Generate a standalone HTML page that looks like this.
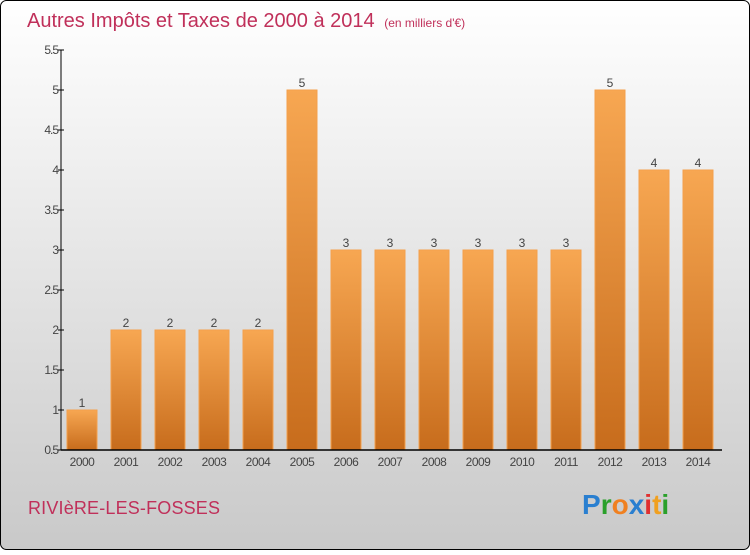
<!DOCTYPE html>
<html><head><meta charset="utf-8"><style>
html,body{margin:0;padding:0;}
body{width:750px;height:550px;overflow:hidden;font-family:"Liberation Sans",sans-serif;}
</style></head><body>
<svg width="750" height="550" xmlns="http://www.w3.org/2000/svg">
<defs>
<linearGradient id="bg" x1="0" y1="0" x2="0" y2="1"><stop offset="0" stop-color="#ffffff"/><stop offset="1" stop-color="#c9c9c9"/></linearGradient>
<linearGradient id="bar" x1="0" y1="0" x2="0" y2="1"><stop offset="0" stop-color="#f7a752"/><stop offset="1" stop-color="#c76c1c"/></linearGradient>
</defs>
<rect x="0.5" y="0.5" width="749" height="549" rx="6" fill="url(#bg)" stroke="#000"/>
<text x="27" y="27" font-size="20" fill="#c0305a">Autres Impôts et Taxes de 2000 à 2014 <tspan font-size="12" dx="4">(en milliers d'€)</tspan></text>
<g id="yaxis"></g>
<g id="bars"></g>
<g id="xaxis"></g>
<text x="28" y="514" font-size="18" fill="#c0305a" textLength="192">RIVIèRE-LES-FOSSES</text>
<text x="582" y="514" font-size="28" font-weight="bold" font-family="Liberation Sans, sans-serif"><tspan fill="#2a7fd0">P</tspan><tspan fill="#2aa02a">r</tspan><tspan fill="#f08020">o</tspan><tspan fill="#2a7fd0">x</tspan><tspan fill="#e03030">i</tspan><tspan fill="#f0a020">t</tspan><tspan fill="#2aa02a">i</tspan></text>
</svg>
<script>
const categories=["2000","2001","2002","2003","2004","2005","2006","2007","2008","2009","2010","2011","2012","2013","2014"];
const values=[1,2,2,2,2,5,3,3,3,3,3,3,5,4,4];
const yTicks=[0.5,1,1.5,2,2.5,3,3.5,4,4.5,5,5.5];
const yTickLabels=["0.5","1","1.5","2","2.5","3","3.5","4","4.5","5","5.5"];
const NS="http://www.w3.org/2000/svg";
const y0=450,yTop=50,vMin=0.5,vMax=5.5;
function yS(v){return y0-(v-vMin)/(vMax-vMin)*(y0-yTop);}
function xC(i){return 82+i*44;}
function mk(t,a,p){const e=document.createElementNS(NS,t);for(const k in a)e.setAttribute(k,a[k]);p.appendChild(e);return e;}
const ya=document.getElementById('yaxis'),xa=document.getElementById('xaxis'),bg=document.getElementById('bars');
const yl=mk('line',{x1:61,y1:yTop,x2:61,y2:y0,stroke:'#000'},ya);


yTicks.forEach((v,i)=>{
 const tk=mk('line',{x1:58,x2:64,y1:yS(v),y2:yS(v),stroke:'#000'},ya);
 
 
 const t=mk('text',{x:58,y:yS(v)+4,'font-size':12,fill:'#444','text-anchor':'end','letter-spacing':'-1'},ya);
 t.textContent=yTickLabels[i];
 
 
});
const xl=mk('line',{x1:61,y1:y0,x2:722,y2:y0,stroke:'#000','stroke-width':1.5},xa);


categories.forEach((c,i)=>{
 const v=values[i],x=xC(i);
 const r=mk('rect',{x:x-15,y:yS(v),width:30,height:y0-yS(v),fill:'url(#bar)',stroke:'#f4a04c','stroke-width':1},bg);
 
 
 const vl=mk('text',{x:x,y:yS(v)-3,'font-size':12,fill:'#444','text-anchor':'middle'},bg);
 vl.textContent=String(v);
 
 
 const t=mk('text',{x:x,y:466,'font-size':12,fill:'#444','text-anchor':'middle','letter-spacing':'-0.5'},xa);
 t.textContent=c;
 
 
});
</script>
</body></html>
